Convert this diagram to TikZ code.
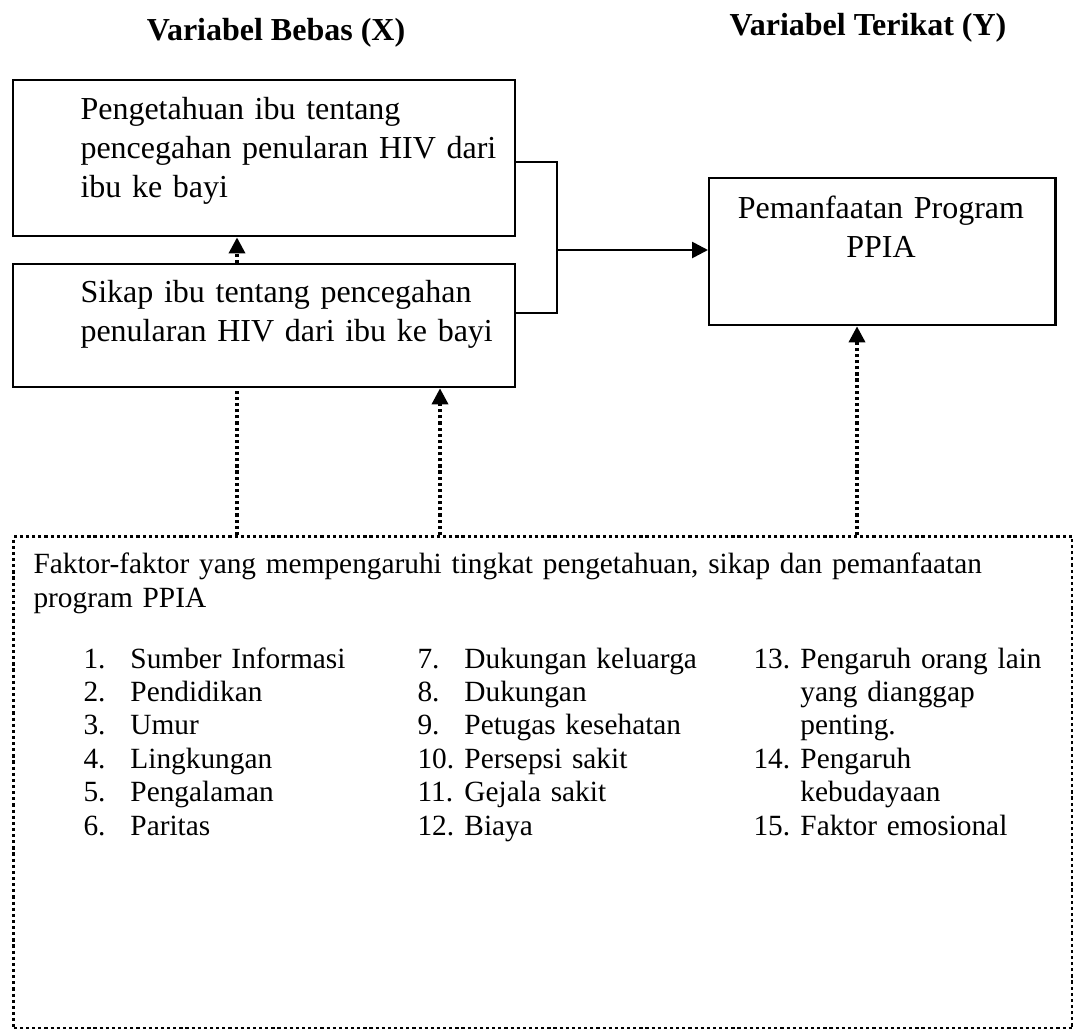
\documentclass[tikz,border=0pt]{standalone}
\usepackage{fontspec}
\setmainfont{Liberation Serif}
\usetikzlibrary{arrows.meta}

\tikzset{
  kotak/.style={draw, line width=0.9pt, inner sep=0pt},
  titik/.style={line width=1.3pt, dash pattern=on 1.2pt off 1.1pt},
  panah/.style={-{Triangle[length=6pt,width=6pt]}},
  isi/.style={inner sep=0pt, text width=#1, font=\fontsize{12}{14.8}\selectfont},
  daftar/.style={inner sep=0pt, text width=125pt, align=left, font=\fontsize{11}{12.55}\selectfont},
  judul/.style={anchor=base, inner sep=0pt, font=\bfseries\fontsize{12}{14}\selectfont}
}
\newcommand{\nomor}[2]{\makebox[17.6pt][l]{#1}#2}

\begin{document}
\begin{tikzpicture}[x=0.375pt, y=-0.375pt]
\useasboundingbox (0,0) rectangle (1073,1028);

% judul
\node[judul] (judulX) at (276,40) {Variabel Bebas (X)};
\node[judul] (judulY) at (868,35) {Variabel Terikat (Y)};

% kotak
\node[kotak, anchor=north west, minimum width=188.4pt, minimum height=58.5pt] (tahu) at (11.5,79) {};
\node[kotak, anchor=north west, minimum width=188.4pt, minimum height=46.1pt] (sikap) at (11.5,263) {};
\node[kotak, anchor=north west, minimum width=129.8pt, minimum height=55.1pt] (ppia) at (708,177) {};
\node[draw, titik, inner sep=0pt, anchor=north west, minimum width=397.1pt, minimum height=184.5pt] (faktor) at (12,535) {};

% teks dalam kotak
\node[isi=170pt, align=left, anchor=base west] (tahuteks) at (80,119)
  {Pengetahuan ibu tentang\\ pencegahan penularan HIV dari\\ ibu ke bayi};
\node[isi=170pt, align=left, anchor=base west] (sikapteks) at (80,302)
  {Sikap ibu tentang pencegahan\\ penularan HIV dari ibu ke bayi};
\node[isi=120pt, align=center, anchor=base] (ppiateks) at (881,218)
  {Pemanfaatan Program\\ PPIA};
\node[inner sep=0pt, text width=390pt, align=left, anchor=base west, font=\fontsize{11}{12.75}\selectfont] (faktorteks) at (33,573)
  {Faktor-faktor yang mempengaruhi tingkat pengetahuan, sikap dan pemanfaatan\\ program PPIA};

% daftar faktor
\node[daftar, anchor=base west] (kol1) at (83,668)
  {\nomor{1.}{Sumber Informasi}\\ \nomor{2.}{Pendidikan}\\ \nomor{3.}{Umur}\\
   \nomor{4.}{Lingkungan}\\ \nomor{5.}{Pengalaman}\\ \nomor{6.}{Paritas}};
\node[daftar, anchor=base west] (kol2) at (417,668)
  {\nomor{7.}{Dukungan keluarga}\\ \nomor{8.}{Dukungan}\\ \nomor{9.}{Petugas kesehatan}\\
   \nomor{10.}{Persepsi sakit}\\ \nomor{11.}{Gejala sakit}\\ \nomor{12.}{Biaya}};
\node[daftar, anchor=base west] (kol3) at (753,668)
  {\nomor{13.}{Pengaruh orang lain}\\ \nomor{}{yang dianggap}\\ \nomor{}{penting.}\\
   \nomor{14.}{Pengaruh}\\ \nomor{}{kebudayaan}\\ \nomor{15.}{Faktor emosional}};

% titik bantu
\coordinate (xa) at (237,0);
\coordinate (xb) at (440,0);
\coordinate (xc) at (857,0);
\coordinate (ja) at (557,162);
\coordinate (jb) at (557,313);
\coordinate (jm) at (557,250);

% garis penghubung
\draw[line width=0.9pt] (tahu.east |- ja) -- (ja) -- (jb) -- (sikap.east |- jb);
\draw[line width=1pt, panah] (jm) -- (ppia.west |- jm);

\draw[titik, panah] (sikap.north -| xa) -- (tahu.south -| xa);
\draw[titik] (faktor.north -| xa) -- (sikap.south -| xa);
\draw[titik, panah] (faktor.north -| xb) -- (sikap.south -| xb);
\draw[titik, panah] (faktor.north -| xc) -- (ppia.south -| xc);

\end{tikzpicture}
\end{document}
